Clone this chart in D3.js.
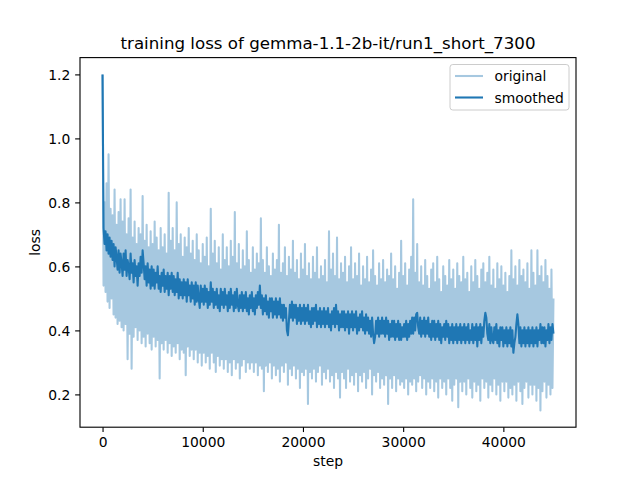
<!DOCTYPE html>
<html>
<head>
<meta charset="utf-8">
<script src="https://cdn.jsdelivr.net/npm/d3@7"></script>
<style>
  html, body { margin: 0; padding: 0; background: #ffffff; }
  svg { display: block; font-family: "DejaVu Sans", sans-serif; }
</style>
</head>
<body>
<svg id="chart" width="640" height="480"></svg>
<script>
// ---------------- data ----------------
const titleText = "training loss of gemma-1.1-2b-it/run1_short_7300";
const xLabel = "step";
const yLabel = "loss";
const seriesNames = ["original", "smoothed"];
const stepInterval = 100;
const xTicks = [0, 10000, 20000, 30000, 40000];
const yTicks = [0.2, 0.4, 0.6, 0.8, 1.0, 1.2];

const originalLoss = [
  1.20, 0.54, 0.80, 0.52, 0.86, 0.49, 0.95, 0.47, 0.78, 0.50,
  0.76, 0.45, 0.84, 0.44, 0.73, 0.42, 0.77, 0.43, 0.81, 0.41,
  0.74, 0.40, 0.81, 0.42, 0.70, 0.31, 0.75, 0.39, 0.84, 0.28,
  0.69, 0.38, 0.74, 0.41, 0.67, 0.37, 0.72, 0.40, 0.70, 0.36,
  0.82, 0.38, 0.68, 0.35, 0.73, 0.39, 0.66, 0.36, 0.71, 0.34,
  0.67, 0.38, 0.74, 0.35, 0.69, 0.37, 0.65, 0.25, 0.72, 0.36,
  0.66, 0.34, 0.70, 0.37, 0.64, 0.33, 0.83, 0.36, 0.68, 0.32,
  0.72, 0.35, 0.65, 0.33, 0.80, 0.36, 0.67, 0.31, 0.70, 0.34,
  0.63, 0.33, 0.69, 0.26, 0.66, 0.35, 0.72, 0.32, 0.64, 0.34,
  0.68, 0.31, 0.62, 0.34, 0.70, 0.30, 0.65, 0.33, 0.61, 0.29,
  0.67, 0.33, 0.63, 0.30, 0.69, 0.32, 0.60, 0.28, 0.78, 0.33,
  0.64, 0.30, 0.68, 0.27, 0.61, 0.32, 0.66, 0.29, 0.59, 0.31,
  0.70, 0.28, 0.62, 0.31, 0.66, 0.27, 0.60, 0.30, 0.68, 0.26,
  0.63, 0.31, 0.77, 0.28, 0.61, 0.30, 0.67, 0.25, 0.59, 0.29,
  0.65, 0.31, 0.60, 0.27, 0.71, 0.30, 0.62, 0.28, 0.58, 0.30,
  0.66, 0.27, 0.59, 0.30, 0.64, 0.26, 0.61, 0.29, 0.75, 0.28,
  0.62, 0.21, 0.58, 0.29, 0.66, 0.27, 0.60, 0.30, 0.57, 0.25,
  0.64, 0.29, 0.59, 0.26, 0.62, 0.28, 0.73, 0.24, 0.58, 0.29,
  0.61, 0.27, 0.66, 0.30, 0.57, 0.23, 0.63, 0.28, 0.59, 0.26,
  0.68, 0.29, 0.58, 0.25, 0.62, 0.28, 0.56, 0.22, 0.64, 0.27,
  0.59, 0.26, 0.67, 0.28, 0.57, 0.17, 0.61, 0.27, 0.56, 0.25,
  0.63, 0.28, 0.58, 0.24, 0.66, 0.27, 0.56, 0.29, 0.60, 0.23,
  0.57, 0.27, 0.62, 0.25, 0.55, 0.28, 0.71, 0.24, 0.59, 0.26,
  0.64, 0.22, 0.57, 0.27, 0.69, 0.25, 0.56, 0.19, 0.61, 0.27,
  0.58, 0.25, 0.63, 0.22, 0.55, 0.28, 0.60, 0.24, 0.66, 0.26,
  0.56, 0.23, 0.61, 0.27, 0.57, 0.21, 0.64, 0.26, 0.54, 0.24,
  0.60, 0.27, 0.56, 0.22, 0.63, 0.25, 0.55, 0.28, 0.59, 0.20,
  0.65, 0.26, 0.57, 0.24, 0.54, 0.27, 0.61, 0.22, 0.56, 0.25,
  0.62, 0.23, 0.55, 0.26, 0.59, 0.17, 0.57, 0.25, 0.64, 0.22,
  0.56, 0.26, 0.60, 0.21, 0.53, 0.25, 0.58, 0.23, 0.68, 0.24,
  0.57, 0.22, 0.61, 0.25, 0.54, 0.20, 0.59, 0.24, 0.63, 0.23,
  0.81, 0.25, 0.58, 0.21, 0.67, 0.24, 0.55, 0.26, 0.60, 0.22,
  0.54, 0.25, 0.62, 0.20, 0.57, 0.24, 0.53, 0.22, 0.59, 0.25,
  0.61, 0.21, 0.55, 0.24, 0.63, 0.19, 0.56, 0.25, 0.52, 0.22,
  0.60, 0.24, 0.57, 0.20, 0.54, 0.25, 0.62, 0.22, 0.56, 0.18,
  0.59, 0.23, 0.53, 0.25, 0.61, 0.16, 0.57, 0.24, 0.55, 0.21,
  0.63, 0.24, 0.56, 0.20, 0.58, 0.25, 0.52, 0.22, 0.60, 0.19,
  0.55, 0.24, 0.62, 0.21, 0.57, 0.23, 0.53, 0.18, 0.59, 0.25,
  0.61, 0.22, 0.55, 0.24, 0.58, 0.19, 0.63, 0.23, 0.54, 0.21,
  0.59, 0.25, 0.53, 0.20, 0.61, 0.23, 0.56, 0.18, 0.60, 0.24,
  0.54, 0.21, 0.58, 0.24, 0.52, 0.19, 0.57, 0.22, 0.65, 0.20,
  0.56, 0.23, 0.60, 0.18, 0.54, 0.24, 0.62, 0.21, 0.57, 0.17,
  0.59, 0.22, 0.55, 0.24, 0.61, 0.19, 0.53, 0.23, 0.65, 0.20,
  0.58, 0.23, 0.54, 0.18, 0.65, 0.22, 0.57, 0.15, 0.60, 0.21,
  0.55, 0.24, 0.62, 0.19, 0.57, 0.23, 0.53, 0.20, 0.59, 0.22,
  0.50
];

const smoothedLoss = [
  1.20, 0.72, 0.67, 0.71, 0.65, 0.70, 0.64, 0.69, 0.63, 0.68,
  0.62, 0.67, 0.60, 0.66, 0.63, 0.59, 0.65, 0.58, 0.64, 0.61,
  0.57, 0.64, 0.59, 0.65, 0.57, 0.62, 0.60, 0.56, 0.64, 0.58,
  0.61, 0.55, 0.62, 0.57, 0.60, 0.54, 0.61, 0.57, 0.63, 0.58,
  0.65, 0.61, 0.56, 0.60, 0.54, 0.61, 0.55, 0.59, 0.53, 0.60,
  0.54, 0.59, 0.53, 0.58, 0.55, 0.60, 0.53, 0.57, 0.52, 0.58,
  0.54, 0.59, 0.52, 0.57, 0.53, 0.58, 0.51, 0.57, 0.53, 0.58,
  0.52, 0.57, 0.51, 0.56, 0.52, 0.58, 0.50, 0.56, 0.51, 0.55,
  0.50, 0.56, 0.51, 0.55, 0.49, 0.56, 0.51, 0.54, 0.49, 0.55,
  0.50, 0.54, 0.48, 0.55, 0.49, 0.54, 0.50, 0.47, 0.54, 0.49,
  0.53, 0.48, 0.54, 0.49, 0.53, 0.47, 0.52, 0.48, 0.55, 0.49,
  0.53, 0.47, 0.52, 0.48, 0.53, 0.47, 0.51, 0.46, 0.53, 0.48,
  0.52, 0.47, 0.53, 0.48, 0.51, 0.46, 0.52, 0.47, 0.53, 0.48,
  0.51, 0.46, 0.52, 0.47, 0.53, 0.48, 0.46, 0.51, 0.47, 0.52,
  0.46, 0.51, 0.47, 0.52, 0.46, 0.50, 0.45, 0.51, 0.47, 0.52,
  0.46, 0.50, 0.45, 0.51, 0.47, 0.52, 0.48, 0.54, 0.47, 0.51,
  0.45, 0.50, 0.46, 0.51, 0.45, 0.49, 0.44, 0.50, 0.46, 0.50,
  0.44, 0.49, 0.45, 0.50, 0.44, 0.49, 0.45, 0.50, 0.44, 0.48,
  0.43, 0.48, 0.44, 0.47, 0.40, 0.385, 0.43, 0.48, 0.44, 0.49,
  0.43, 0.48, 0.44, 0.48, 0.42, 0.47, 0.43, 0.48, 0.42, 0.47,
  0.43, 0.48, 0.42, 0.47, 0.43, 0.48, 0.42, 0.46, 0.41, 0.47,
  0.42, 0.47, 0.43, 0.48, 0.41, 0.46, 0.42, 0.47, 0.41, 0.46,
  0.42, 0.47, 0.41, 0.46, 0.42, 0.47, 0.41, 0.45, 0.40, 0.46,
  0.42, 0.47, 0.41, 0.48, 0.42, 0.46, 0.40, 0.45, 0.41, 0.46,
  0.41, 0.46, 0.40, 0.45, 0.41, 0.46, 0.39, 0.45, 0.41, 0.46,
  0.40, 0.45, 0.41, 0.46, 0.39, 0.44, 0.40, 0.45, 0.41, 0.46,
  0.40, 0.44, 0.39, 0.45, 0.40, 0.44, 0.39, 0.43, 0.38, 0.44,
  0.39, 0.36, 0.38, 0.43, 0.39, 0.44, 0.38, 0.43, 0.39, 0.44,
  0.39, 0.43, 0.38, 0.44, 0.39, 0.43, 0.37, 0.42, 0.38, 0.43,
  0.38, 0.43, 0.37, 0.42, 0.38, 0.43, 0.37, 0.42, 0.37, 0.41,
  0.38, 0.42, 0.38, 0.43, 0.37, 0.42, 0.38, 0.43, 0.39, 0.44,
  0.39, 0.44, 0.40, 0.45, 0.455, 0.41, 0.39, 0.44, 0.38, 0.43,
  0.39, 0.44, 0.38, 0.43, 0.39, 0.44, 0.38, 0.42, 0.37, 0.43,
  0.38, 0.43, 0.37, 0.42, 0.38, 0.43, 0.37, 0.42, 0.36, 0.41,
  0.38, 0.42, 0.37, 0.43, 0.38, 0.42, 0.36, 0.41, 0.37, 0.42,
  0.36, 0.41, 0.37, 0.42, 0.36, 0.41, 0.37, 0.42, 0.36, 0.41,
  0.37, 0.42, 0.36, 0.41, 0.37, 0.42, 0.36, 0.40, 0.37, 0.42,
  0.36, 0.41, 0.37, 0.42, 0.35, 0.41, 0.37, 0.42, 0.36, 0.41,
  0.38, 0.43, 0.455, 0.44, 0.39, 0.37, 0.42, 0.36, 0.41, 0.37,
  0.36, 0.41, 0.37, 0.42, 0.36, 0.40, 0.35, 0.41, 0.37, 0.41,
  0.35, 0.40, 0.36, 0.41, 0.35, 0.40, 0.36, 0.41, 0.35, 0.40,
  0.33, 0.36, 0.38, 0.42, 0.45, 0.42, 0.36, 0.41, 0.35, 0.40,
  0.36, 0.41, 0.35, 0.40, 0.36, 0.41, 0.35, 0.40, 0.36, 0.41,
  0.35, 0.40, 0.36, 0.41, 0.35, 0.40, 0.37, 0.42, 0.36, 0.41,
  0.36, 0.41, 0.35, 0.40, 0.37, 0.42, 0.36, 0.41, 0.37, 0.42,
  0.39
];

// ---------------- layout ----------------
const W = 640, H = 480;
const pt = 100 / 72;
const plot = { left: 80, right: 576, top: 57.6, bottom: 427.2 };
const colOriginal = "#a6c8e0";
const colSmoothed = "#1f77b4";

const svg = d3.select("#chart");
svg.append("rect").attr("width", W).attr("height", H).attr("fill", "#ffffff");

const steps = originalLoss.map((_, i) => i * stepInterval);
const orig = originalLoss.map((v, i) => [steps[i], v]);
const smooth = smoothedLoss.map((v, i) => [steps[i], v]);

const xMin = d3.min(steps), xMax = d3.max(steps);
const allV = originalLoss.concat(smoothedLoss);
const yMin = d3.min(allV), yMax = d3.max(allV);
const xPad = 0.05 * (xMax - xMin), yPad = 0.05 * (yMax - yMin);

const x = d3.scaleLinear().domain([xMin - xPad, xMax + xPad]).range([plot.left, plot.right]);
const y = d3.scaleLinear().domain([yMin - yPad, yMax + yPad]).range([plot.bottom, plot.top]);

svg.append("defs").append("clipPath").attr("id", "clip")
  .append("rect").attr("x", plot.left).attr("y", plot.top)
  .attr("width", plot.right - plot.left).attr("height", plot.bottom - plot.top);

const line = d3.line().x(d => x(d[0])).y(d => y(d[1]));
const g = svg.append("g").attr("clip-path", "url(#clip)");
g.append("path").datum(orig).attr("d", line)
  .attr("fill", "none").attr("stroke", colOriginal)
  .attr("stroke-width", 1.5 * pt).attr("stroke-linejoin", "round").attr("stroke-linecap", "butt");
g.append("path").datum(smooth).attr("d", line)
  .attr("fill", "none").attr("stroke", colSmoothed)
  .attr("stroke-width", 1.5 * pt).attr("stroke-linejoin", "round").attr("stroke-linecap", "butt");

// axes
const fs = 10 * pt;
const xAxis = d3.axisBottom(x).tickValues(xTicks).tickFormat(d3.format("d"))
  .tickSizeInner(3.5 * pt).tickSizeOuter(0).tickPadding(3.5 * pt);
const yAxis = d3.axisLeft(y).tickValues(yTicks).tickFormat(d3.format(".1f"))
  .tickSizeInner(3.5 * pt).tickSizeOuter(0).tickPadding(3.5 * pt);

const gx = svg.append("g").attr("transform", `translate(0,${plot.bottom})`).call(xAxis);
const gy = svg.append("g").attr("transform", `translate(${plot.left},0)`).call(yAxis);
[gx, gy].forEach(a => {
  a.select(".domain").remove();
  a.selectAll(".tick line").attr("stroke", "#000").attr("stroke-width", 0.8 * pt);
  a.selectAll(".tick text").attr("fill", "#000")
    .style("font-family", "DejaVu Sans").style("font-size", fs + "px");
});
gx.selectAll(".tick text").attr("dy", null).attr("y", 3.5 * pt + 3.5 * pt + 10.3);
gy.selectAll(".tick text").attr("dy", "0.36em");

// frame
svg.append("rect").attr("x", plot.left).attr("y", plot.top)
  .attr("width", plot.right - plot.left).attr("height", plot.bottom - plot.top)
  .attr("fill", "none").attr("stroke", "#000").attr("stroke-width", 0.8 * pt);

// title & labels
svg.append("text").attr("x", (plot.left + plot.right) / 2).attr("y", 48.5)
  .attr("text-anchor", "middle").style("font-size", (12 * pt) + "px").attr("fill", "#000")
  .text(titleText);
svg.append("text").attr("x", (plot.left + plot.right) / 2).attr("y", 466)
  .attr("text-anchor", "middle").style("font-size", fs + "px").attr("fill", "#000")
  .text(xLabel);
svg.append("text")
  .attr("transform", `translate(40,${(plot.top + plot.bottom) / 2}) rotate(-90)`)
  .attr("text-anchor", "middle").style("font-size", fs + "px").attr("fill", "#000")
  .text(yLabel);

// legend
const lg = svg.append("g");
const lgX = 450, lgY = 64.5, lgW = 119, lgH = 45.5;
lg.append("rect").attr("x", lgX).attr("y", lgY).attr("width", lgW).attr("height", lgH)
  .attr("rx", 2.8).attr("ry", 2.8)
  .attr("fill", "#ffffff").attr("fill-opacity", 0.8)
  .attr("stroke", "#cccccc").attr("stroke-width", 1);
const legendColors = [colOriginal, colSmoothed];
seriesNames.forEach((name, i) => {
  const cy = 76 + i * 21.5;
  lg.append("line").attr("x1", 455).attr("x2", 483).attr("y1", cy).attr("y2", cy)
    .attr("stroke", legendColors[i]).attr("stroke-width", 1.5 * pt);
  lg.append("text").attr("x", 494.5).attr("y", cy + 5)
    .style("font-size", fs + "px").attr("fill", "#000").text(name);
});
</script>
</body>
</html>
